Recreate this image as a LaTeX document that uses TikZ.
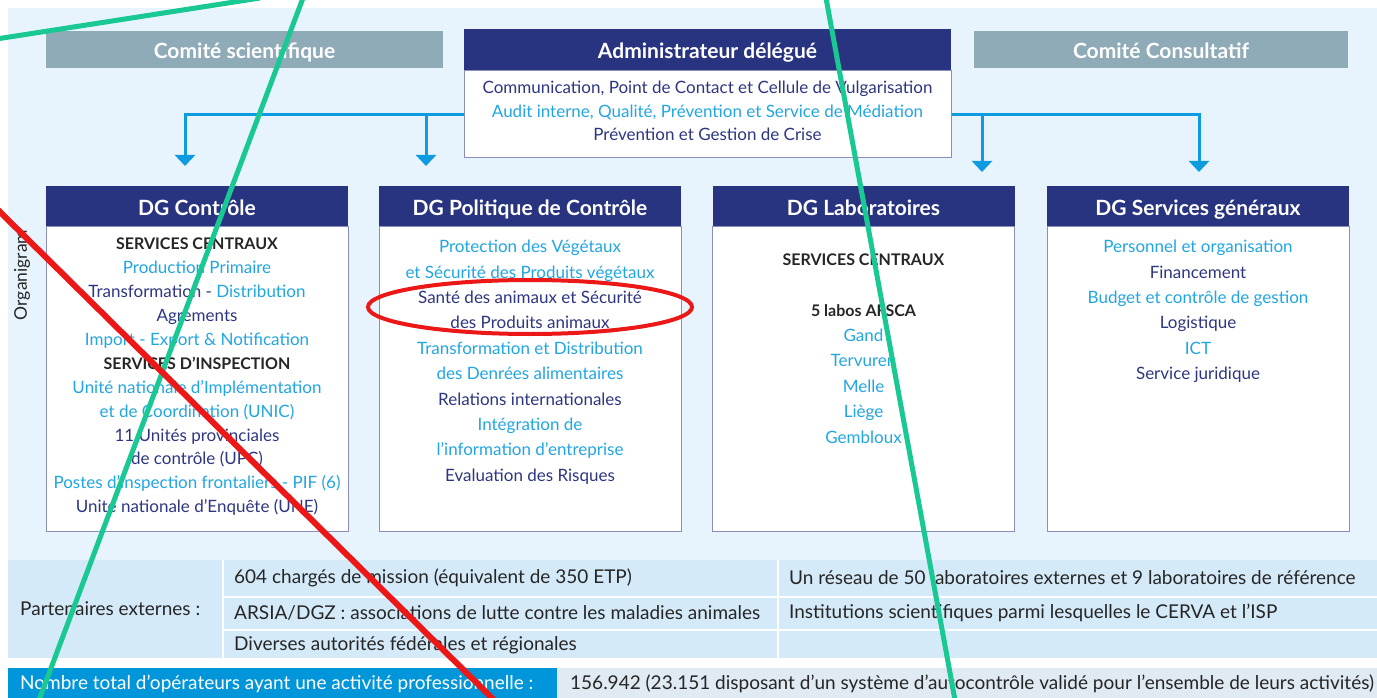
\documentclass[tikz,border=0pt]{standalone}
\usepackage{fontspec}
\setmainfont{Lato}
\usetikzlibrary{arrows.meta}

\definecolor{navy}{RGB}{40,52,128}
\definecolor{navytxt}{RGB}{46,54,128}
\definecolor{cyantxt}{RGB}{34,166,226}
\definecolor{bodytxt}{RGB}{38,38,38}
\definecolor{panel}{RGB}{232,244,253}
\definecolor{tablebg}{RGB}{213,234,249}
\definecolor{comitegrey}{RGB}{143,171,184}
\definecolor{feedblue}{RGB}{14,156,224}
\definecolor{barblue}{RGB}{0,150,217}
\definecolor{strokegreen}{RGB}{26,200,148}
\definecolor{strokered}{RGB}{236,24,24}

\begin{document}
\begin{tikzpicture}[x=1pt, y=-1pt,
    every node/.style={inner sep=0pt},
    comite/.style={fill=comitegrey, text=white, font=\fontsize{21}{24}\selectfont\bfseries, minimum height=37pt, text height=20pt, text depth=1.5pt},
    dghead/.style={fill=navy, text=white, font=\fontsize{21}{24}\selectfont\bfseries, minimum width=302pt, minimum height=40pt, text height=20pt, text depth=1.5pt},
    dgbody/.style={draw=navy!55, fill=white, line width=1pt, minimum width=302pt, minimum height=305pt, anchor=north},
    listing/.style={align=center, anchor=north, text=navytxt, font=\fontsize{17}{25.4}\selectfont},
    feed/.style={draw=feedblue, line width=3pt, -{Triangle[width=20pt,length=11pt]}},
    tablerow/.style={anchor=west, text=bodytxt, font=\fontsize{19}{22}\selectfont},
    stroke/.style={line width=5pt, draw=strokegreen}
]
    \fill[white] (0,0) rectangle (1377,698);
    \useasboundingbox (0,0) rectangle (1377,698);
    \fill[panel] (8,8) rectangle (1377,560);
    \fill[tablebg] (8,560) rectangle (1377,658);
    \fill[barblue] (8,668) rectangle (557,698);
    \fill[black!4!panel] (557,668) rectangle (1377,698);
    \draw[white, line width=2pt] (223,560) -- (223,658) (778,560) -- (778,658);
    \draw[white, line width=2pt] (223,597) -- (1377,597) (223,630) -- (1377,630);

    \node[rotate=90, text=bodytxt, font=\fontsize{17.5}{20}\selectfont] (orglabel) at (22,275) {Organigram};

    \node[comite, minimum width=397pt] (scient) at (244.5,49.5) {Comité scientifique};
    \node[comite, minimum width=374pt] (consult) at (1161,49.5) {Comité Consultatif};

    \node[dghead, minimum width=487pt, minimum height=41pt] (admin) at (707.5,49.5) {Administrateur délégué};
    \node[dgbody, minimum width=487pt, minimum height=87pt] (adminbody) at (admin.south) {};
    \node[listing, font=\fontsize{17}{23.5}\selectfont] (adminlist) at (707.5,81) {Communication, Point de Contact et Cellule de Vulgarisation\\
        \textcolor{cyantxt}{Audit interne, Qualité, Prévention et Service de Médiation}\\
        Prévention et Gestion de Crise};

    \coordinate (toctrl) at (185,166);
    \coordinate (topol) at (426,166);
    \coordinate (tolab) at (982,172);
    \coordinate (togen) at (1199,172);
    \foreach \to in {toctrl,topol}
        \draw[feed] (adminbody.west) -| (\to);
    \foreach \to in {tolab,togen}
        \draw[feed] (adminbody.east) -| (\to);

    \foreach \nm/\x/\t in {ctrl/197/DG Contrôle, pol/530/DG Politique de Contrôle, lab/863.5/DG Laboratoires, gen/1198/DG Services généraux} {
        \node[dghead] (\nm) at (\x,206) {\t};
        \node[dgbody] (\nm body) at (\nm.south) {};
    }

    \node[listing, font=\fontsize{17}{23.9}\selectfont] (ctrllist) at (197,238) {\textcolor{bodytxt}{\fontsize{16}{23.9}\selectfont\bfseries SERVICES CENTRAUX}\\
        \textcolor{cyantxt}{Production Primaire}\\
        Transformation - \textcolor{cyantxt}{Distribution}\\
        Agrements\\
        \textcolor{cyantxt}{Import - Export \& Notification}\\
        \textcolor{bodytxt}{\fontsize{16}{23.9}\selectfont\bfseries SERVICES D’INSPECTION}\\
        \textcolor{cyantxt}{Unité nationale d’Implémentation}\\
        \textcolor{cyantxt}{et de Coordination (UNIC)}\\
        11 Unités provinciales\\
        de contrôle (UPC)\\
        \textcolor{cyantxt}{Postes d’inspection frontaliers - PIF (6)}\\
        Unité nationale d’Enquête (UNE)};

    \node[listing] (pollist) at (530,240) {\textcolor{cyantxt}{Protection des Végétaux}\\
        \textcolor{cyantxt}{et Sécurité des Produits végétaux}\\
        Santé des animaux et Sécurité\\
        des Produits animaux\\
        \textcolor{cyantxt}{Transformation et Distribution}\\
        \textcolor{cyantxt}{des Denrées alimentaires}\\
        Relations internationales\\
        \textcolor{cyantxt}{Intégration de}\\
        \textcolor{cyantxt}{l’information d’entreprise}\\
        Evaluation des Risques};

    \node[listing, text=cyantxt] (lablist) at (863.5,253.5) {\textcolor{bodytxt}{\fontsize{16}{25.4}\selectfont\bfseries SERVICES CENTRAUX}\\
        \mbox{}\\
        \textcolor{bodytxt}{\fontsize{16}{25.4}\selectfont\bfseries 5 labos AFSCA}\\
        Gand\\
        Tervuren\\
        Melle\\
        Liège\\
        Gembloux};

    \node[listing] (genlist) at (1198,240) {\textcolor{cyantxt}{Personnel et organisation}\\
        Financement\\
        \textcolor{cyantxt}{Budget et contrôle de gestion}\\
        Logistique\\
        \textcolor{cyantxt}{ICT}\\
        Service juridique};

    \node[tablerow] (partners) at (20,609) {Partenaires externes :};
    \node[tablerow] (row1) at (234,578) {604 chargés de mission (équivalent de 350 ETP)};
    \node[tablerow] (row2) at (234,613) {ARSIA/DGZ : associations de lutte contre les maladies animales};
    \node[tablerow] (row3) at (234,645) {Diverses autorités fédérales et régionales};
    \node[tablerow] (row4) at (789,578) {Un réseau de 50 laboratoires externes et 9 laboratoires de référence};
    \node[tablerow] (row5) at (789,613) {Institutions scientifiques parmi lesquelles le CERVA et l’ISP};
    \node[tablerow, text=white] (total) at (20,684) {Nombre total d’opérateurs ayant une activité professionnelle :};
    \node[tablerow] (totalval) at (570,684) {156.942 (23.151 disposant d’un système d’autocontrôle validé pour l’ensemble de leurs activités)};

    \draw[strokered, line width=4pt] (530,307) ellipse (162 and 27);
    \draw[stroke] (-10,40) -- (260,-2);
    \draw[stroke] (303,-2) -- (39,700);
    \draw[stroke] (826,-2) -- (955,700);
    \draw[stroke, draw=strokered, line width=6pt] (-4,208) -- (494,700);
\end{tikzpicture}
\end{document}
